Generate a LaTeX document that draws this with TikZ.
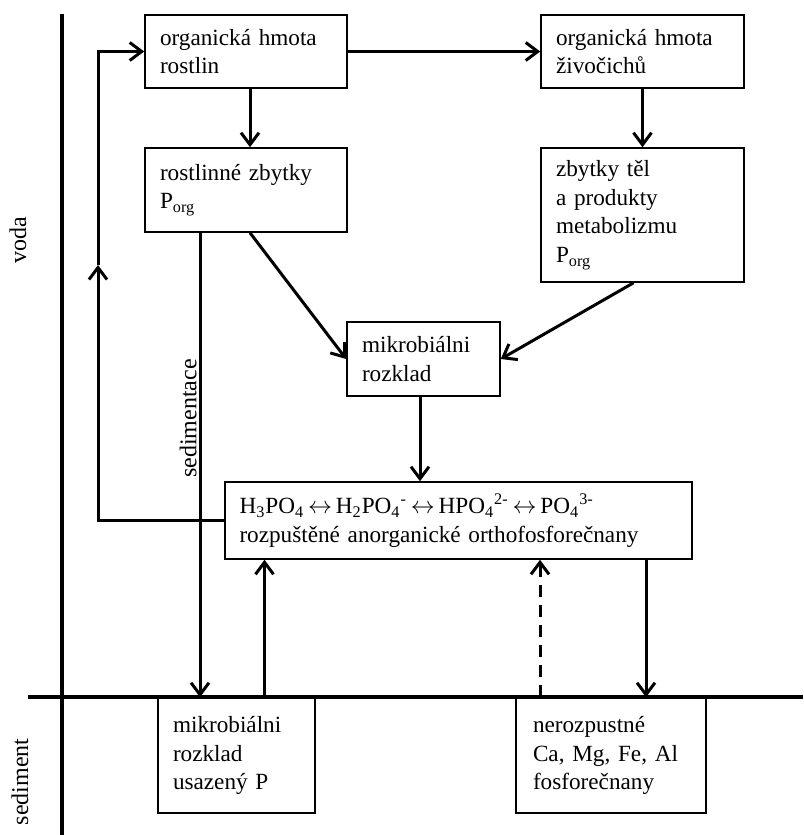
\documentclass[tikz,border=0pt]{standalone}
\usepackage{fontspec}
\setmainfont{Liberation Serif}
\usepackage{tikz}
\usetikzlibrary{arrows.meta,calc,positioning}
\tikzset{
  box/.style = {draw, rectangle, line width=0.8pt, align=left, inner xsep=7.5pt, inner ysep=1pt,
  fill=white, font=\fontsize{11.6}{14.3}\selectfont},
  lbl/.style = {rotate=90, font=\fontsize{12}{14.3}\selectfont}
}
\newcommand{\eqv}{\,$\leftrightarrow$\,}

\begin{document}
\begin{tikzpicture}[x=0.5pt,y=-0.5pt,
        >={Straight Barb[length=6pt,width=9pt]},
        arr/.style={->, line width=1.5pt},
        axis/.style={line width=1.8pt}]
    \useasboundingbox (0,0) rectangle (803,835);
    \draw[axis] (62,14) -- (62,835);
    \draw[axis] (28,697) -- (803,697);
    \node[lbl] (voda) at (18,240) {voda};
    \node[lbl] (sed) at (20,782) {sediment};

    \node[box, text width=86pt, minimum height=36.5pt] (rost) at (246,51.5) {organická hmota\\ rostlin};
    \node[box, text width=86.5pt, minimum height=36.5pt] (ziv) at (642.5,51.5) {organická hmota\\ živočichů};
    \node[box, text width=86pt, minimum height=42pt] (zbyt) at (246,190) {rostlinné zbytky\\ P\textsubscript{org}};
    \node[box, text width=86.5pt, minimum height=67pt] (telo) at (642.5,215) {zbytky těl\\ a produkty\\ metabolizmu\\ P\textsubscript{org}};
    \node[box, text width=61.5pt, minimum height=37pt] (mikro) at (423.5,359) {mikrobiálni\\ rozklad};
    \node[box, text width=219pt, inner xsep=7.25pt, minimum height=38.5pt] (ion) at (458.5,520.5)
        {H\textsubscript{3}PO\textsubscript{4}\eqv H\textsubscript{2}PO\textsubscript{4}\textsuperscript{-}\eqv HPO\textsubscript{4}\textsuperscript{2-}\eqv PO\textsubscript{4}\textsuperscript{3-}\\
         rozpuštěné anorganické orthofosforečnany};
    \node[box, text width=63.5pt, minimum height=57.5pt] (usaz) at (236.5,755.5) {mikrobiálni\\ rozklad\\ usazený P};
    \node[box, text width=78pt, inner xsep=8.5pt, minimum height=57.5pt] (nerozp) at (611,755.5) {nerozpustné\\ Ca, Mg, Fe, Al\\ fosforečnany};

    \draw[arr] (rost) -- (ziv);
    \draw[arr] ([xshift=2pt]rost.south) -- ([xshift=2pt]zbyt.north);
    \draw[arr] (ziv) -- (telo);
    \draw[arr] ([xshift=2pt]zbyt.south) -- (mikro.west);
    \draw[arr] ([xshift=-4.5pt]telo.south) -- (mikro.east);
    \draw[arr] ([xshift=-1.75pt]mikro.south) -- ([xshift=-1.75pt]mikro.south |- ion.north);

    \coordinate (ret) at (98,265);
    \draw[arr] (ion.west) -| (ret);
    \draw[arr] (ret) |- (rost.west);

    \draw[arr] ([xshift=-23pt]zbyt.south) -- ([xshift=-23pt]zbyt.south |- usaz.north)
        node[pos=0.4, lbl, anchor=south, inner sep=1pt] {sedimentace};
    \draw[arr] ([xshift=14pt]usaz.north) -- ([xshift=14pt]usaz.north |- ion.south);
    \draw[arr, dashed, dash pattern=on 6pt off 4pt] ([xshift=-35.5pt]nerozp.north) -- ([xshift=-35.5pt]nerozp.north |- ion.south);
    \draw[arr] ([xshift=17.5pt]nerozp.north |- ion.south) -- ([xshift=17.5pt]nerozp.north);
\end{tikzpicture}
\end{document}
